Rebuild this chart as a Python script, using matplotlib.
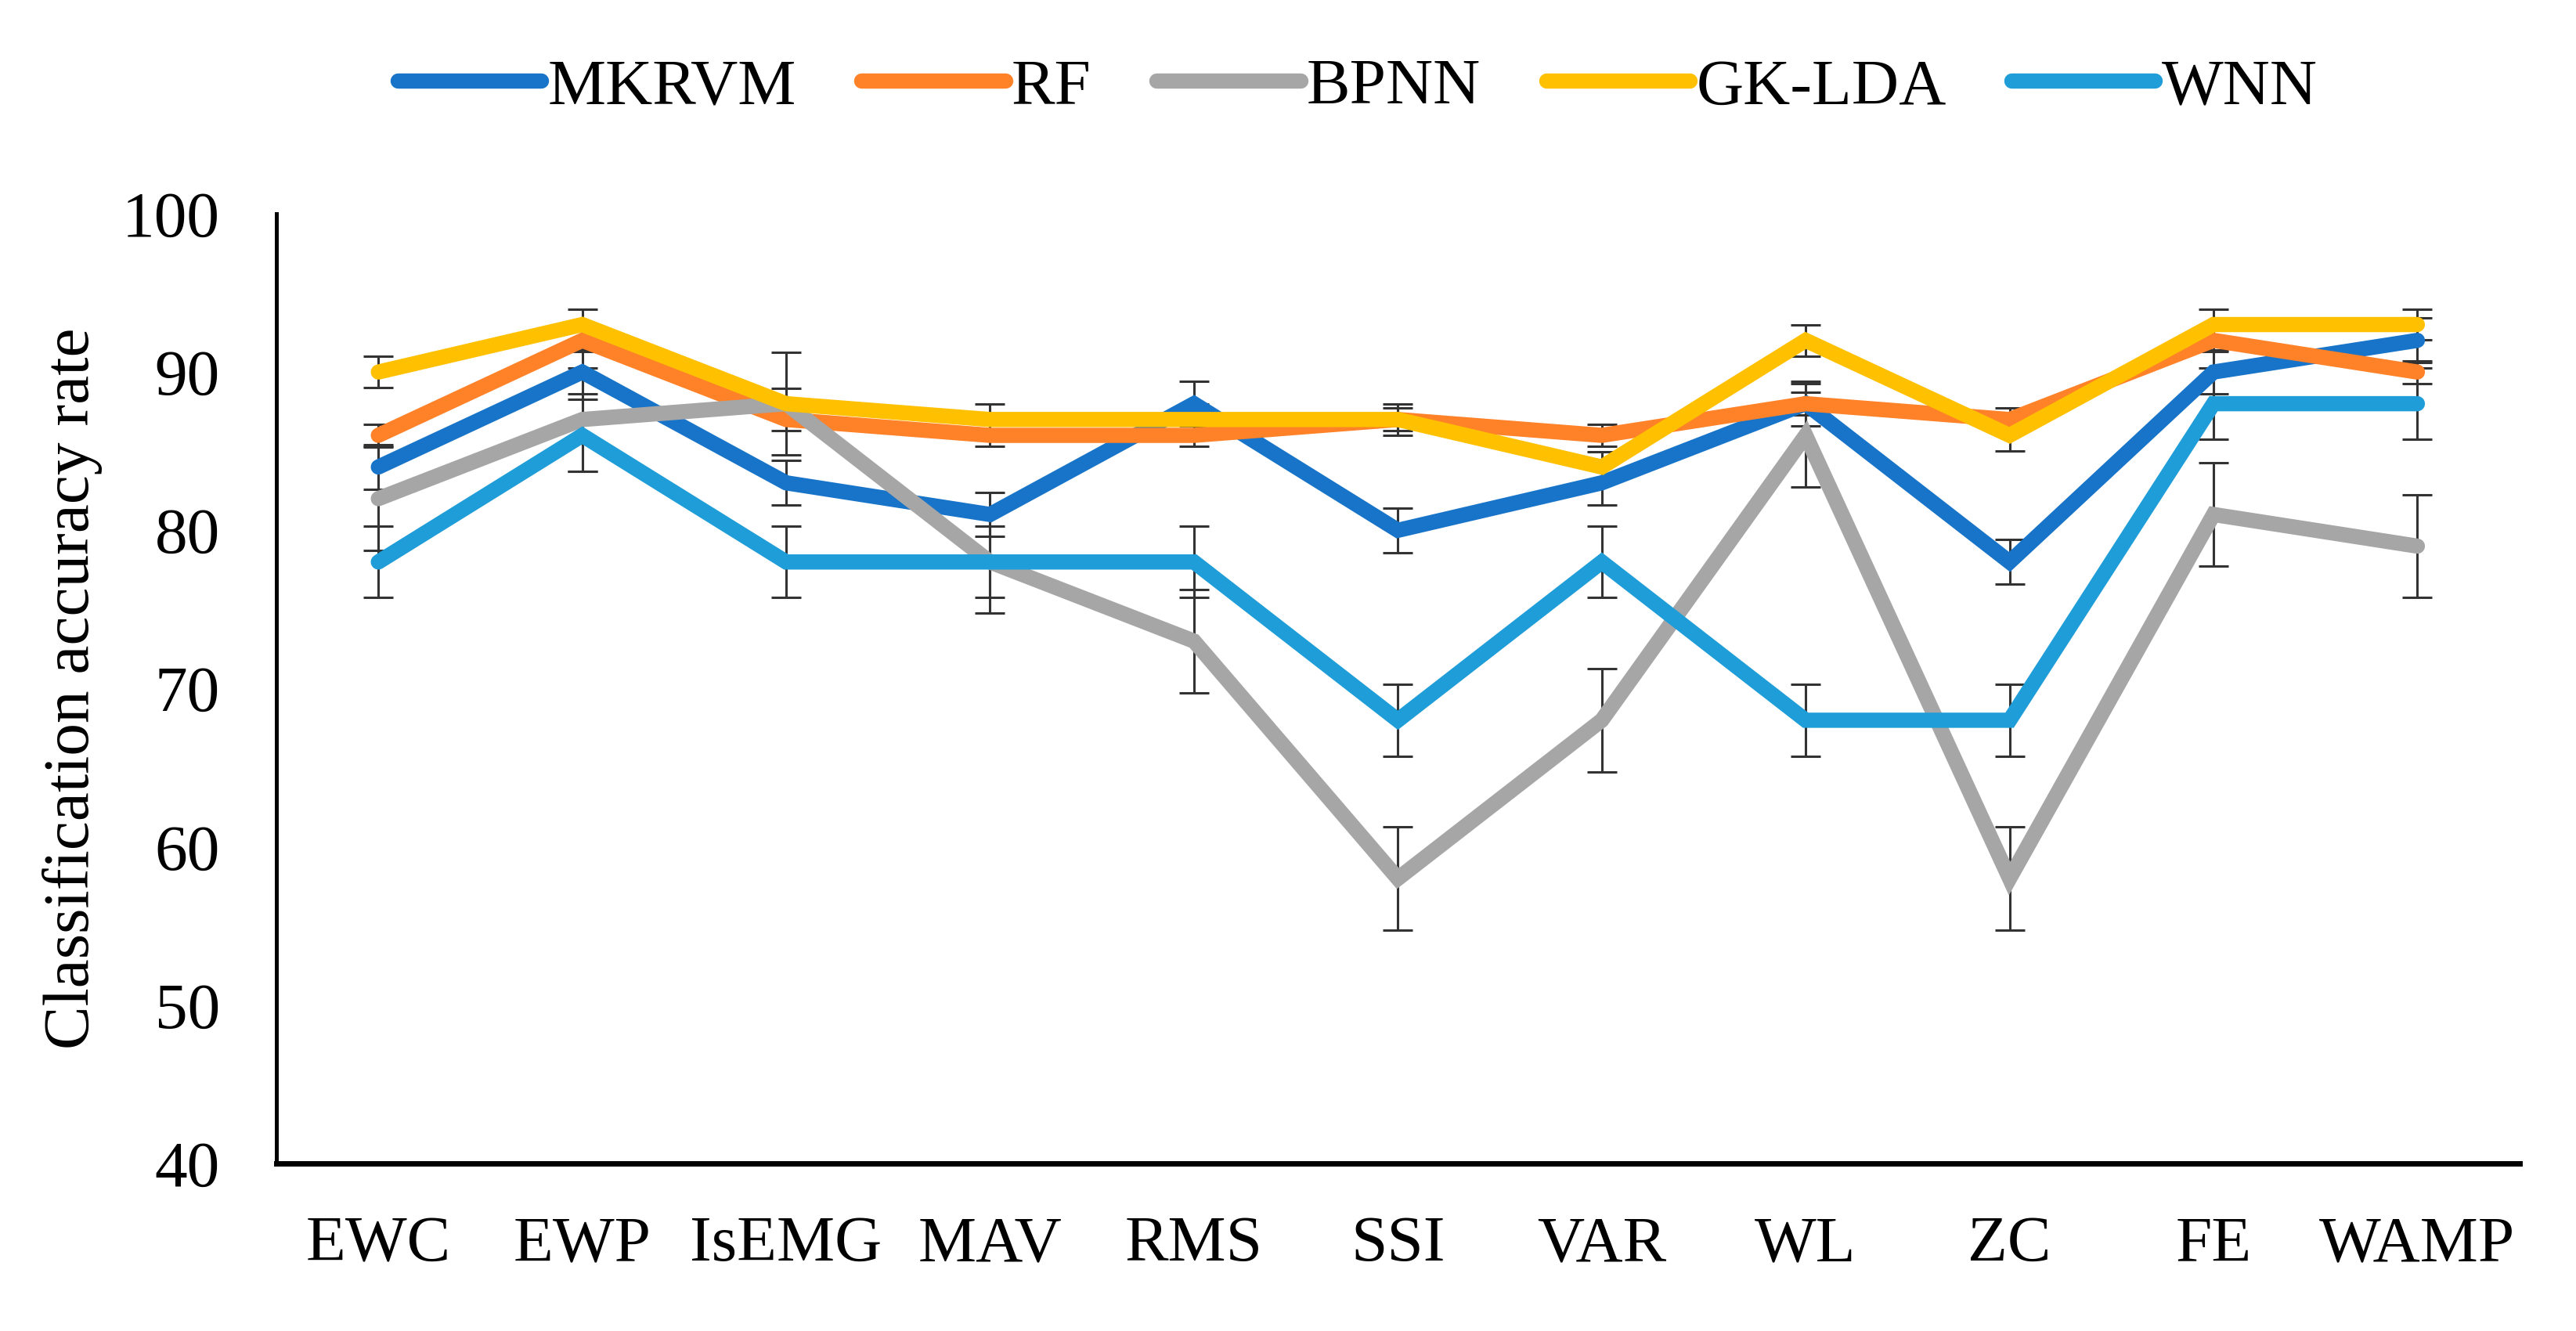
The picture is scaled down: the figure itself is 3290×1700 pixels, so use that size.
import matplotlib
matplotlib.use('Agg')
from matplotlib import pyplot as plt

plt.rcParams['font.family'] = ['Liberation Serif', 'DejaVu Serif']

features = ['EWC', 'EWP', 'IsEMG', 'MAV', 'RMS', 'SSI', 'VAR', 'WL', 'ZC', 'FE', 'WAMP']

mkrvm = [84, 90, 83, 81, 88, 80, 83, 88, 78, 90, 92]
rf = [86, 92, 87, 86, 86, 87, 86, 88, 87, 92, 90]
bpnn = [82, 87, 88, 78, 73, 58, 68, 86, 58, 81, 79]
gk_lda = [90, 93, 88, 87, 87, 87, 84, 92, 86, 93, 93]
wnn = [78, 86, 78, 78, 78, 68, 78, 68, 68, 88, 88]

# error bar half-lengths (same for every point of a series)
err_mkrvm = 1.40
err_rf = 0.71
err_bpnn = 3.25
err_gk_lda = 0.98
err_wnn = 2.26

names = ['MKRVM', 'RF', 'BPNN', 'GK-LDA', 'WNN']
series = [mkrvm, rf, bpnn, gk_lda, wnn]
errors = [err_mkrvm, err_rf, err_bpnn, err_gk_lda, err_wnn]
colors = ['#1874C8', '#FF8128', '#A6A6A6', '#FFC000', '#1E9DD8']

fig = plt.figure(figsize=(16.45, 8.5), dpi=200)
ax = fig.add_axes([0.1073, 0.1259, 0.8707, 0.7135])

x = list(range(len(features)))
for i, (name, vals, err, c) in enumerate(zip(names, series, errors, colors)):
    ax.errorbar(x, vals, yerr=err, fmt='none', ecolor='#333333', elinewidth=1.1,
                capsize=7, capthick=1.1, zorder=1)
    ax.plot(x, vals, color=c, lw=7, label=name, solid_capstyle='round',
            solid_joinstyle='miter', zorder=2 + i)

ax.set_xlim(-0.5, len(features) - 0.5)
ax.set_ylim(40, 100)
ax.set_yticks(range(40, 101, 10))
ax.set_xticks(x)
ax.set_xticklabels(features)
ax.tick_params(axis='both', length=0, labelsize=30)
ax.tick_params(axis='x', pad=24)
ax.tick_params(axis='y', pad=26)

for s in ['top', 'right']:
    ax.spines[s].set_visible(False)
ax.spines['left'].set_linewidth(1.8)
ax.spines['bottom'].set_linewidth(2.5)

ax.set_ylabel('Classification accuracy rate', fontsize=30, labelpad=9)

fig.legend(loc='center', bbox_to_anchor=(0.527, 0.934), ncol=5, frameon=False,
           fontsize=30, handlelength=2.2, handletextpad=0.1, columnspacing=1.0)

plt.savefig('out.png', dpi=200)
